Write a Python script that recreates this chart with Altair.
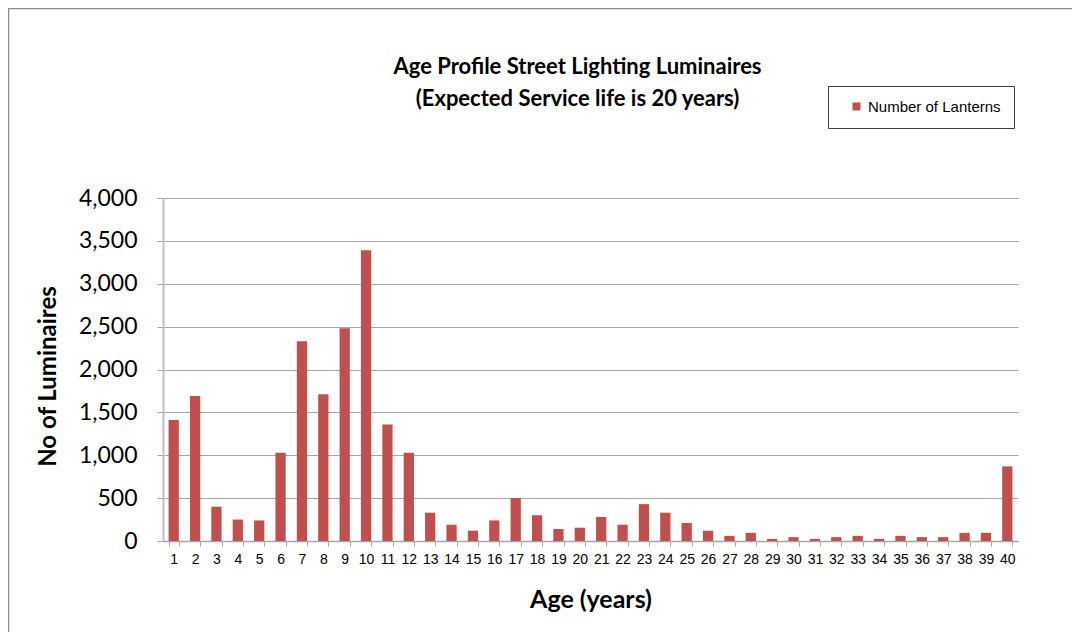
import altair as alt
import pandas as pd

ages = list(range(1, 41))
lanterns = [1410, 1690, 400, 250, 240, 1030, 2330, 1710, 2480, 3390,
            1360, 1030, 330, 190, 120, 240, 500, 300, 140, 155,
            280, 190, 430, 330, 210, 120, 60, 95, 25, 45,
            25, 45, 60, 25, 60, 45, 45, 95, 95, 870]
series_name = "Number of Lanterns"
y_ticks = [0, 500, 1000, 1500, 2000, 2500, 3000, 3500, 4000]
title_lines = ["Age Profile Street Lighting Luminaires",
               "(Expected Service life is 20 years)"]

df = pd.DataFrame({"age": ages, "count": lanterns, "series": series_name})

GRAY = "#A6A6A6"

bars = alt.Chart(df).mark_bar().encode(
    x=alt.X(
        "age:O",
        sort=ages,
        scale=alt.Scale(paddingInner=0.52, paddingOuter=0.26),
        axis=alt.Axis(
            title="Age (years)",
            labelAngle=0,
            labelFont="Liberation Sans",
            labelFontSize=14,
            labelColor="#000000",
            labelPadding=6,
            labelOverlap=False,
            tickBand="extent",
            tickSize=5,
            tickColor=GRAY,
            domainColor=GRAY,
            domainWidth=1.5,
            titleFont="Lato",
            titleFontSize=25,
            titleFontWeight="bold",
            titleColor="#000000",
            titlePadding=21,
            grid=False,
        ),
    ),
    y=alt.Y(
        "count:Q",
        scale=alt.Scale(domain=[0, 4000], nice=False),
        axis=alt.Axis(
            values=y_ticks,
            format=",d",
            title="No of Luminaires",
            labelFont="Lato",
            labelFontSize=23,
            labelColor="#000000",
            labelPadding=20,
            tickSize=6,
            tickColor=GRAY,
            domainColor="#BFBFBF",
            domainWidth=2,
            gridColor=GRAY,
            gridWidth=1,
            titleFont="Lato",
            titleFontSize=24,
            titleFontWeight="bold",
            titleColor="#000000",
            titlePadding=18,
            titleY=178,
        ),
    ),
    color=alt.Color(
        "series:N",
        scale=alt.Scale(range=["#C0504D"]),
        legend=alt.Legend(
            title=None,
            orient="none",
            legendX=665,
            legendY=-112,
            padding=13,
            symbolOffset=8,
            strokeColor="#404040",
            fillColor="#FFFFFF",
            symbolType="square",
            symbolSize=64,
            symbolStrokeWidth=0,
            labelFont="Liberation Sans",
            labelFontSize=15,
            labelColor="#000000",
        ),
    ),
)

frame = alt.Chart(pd.DataFrame({"k": [0]})).mark_rect(
    fillOpacity=0, stroke="#8C8C8C", strokeWidth=1.5
).encode(
    x=alt.value(-154.5),
    y=alt.value(-189.5),
    x2=alt.value(1200),
    y2=alt.value(800),
)

chart = alt.layer(frame, bars).properties(
    width=855,
    height=343,
    autosize="none",
    padding={"left": 155, "top": 190, "right": 54, "bottom": 91},
    title=alt.TitleParams(
        title_lines,
        font="Lato",
        fontSize=22,
        fontWeight="bold",
        color="#000000",
        anchor="middle",
        frame="group",
        dx=-13,
        offset=-103,
        lineHeight=32,
    ),
).configure_view(stroke=None)

chart.save("out.html", embed_options={"renderer": "svg", "actions": False})
